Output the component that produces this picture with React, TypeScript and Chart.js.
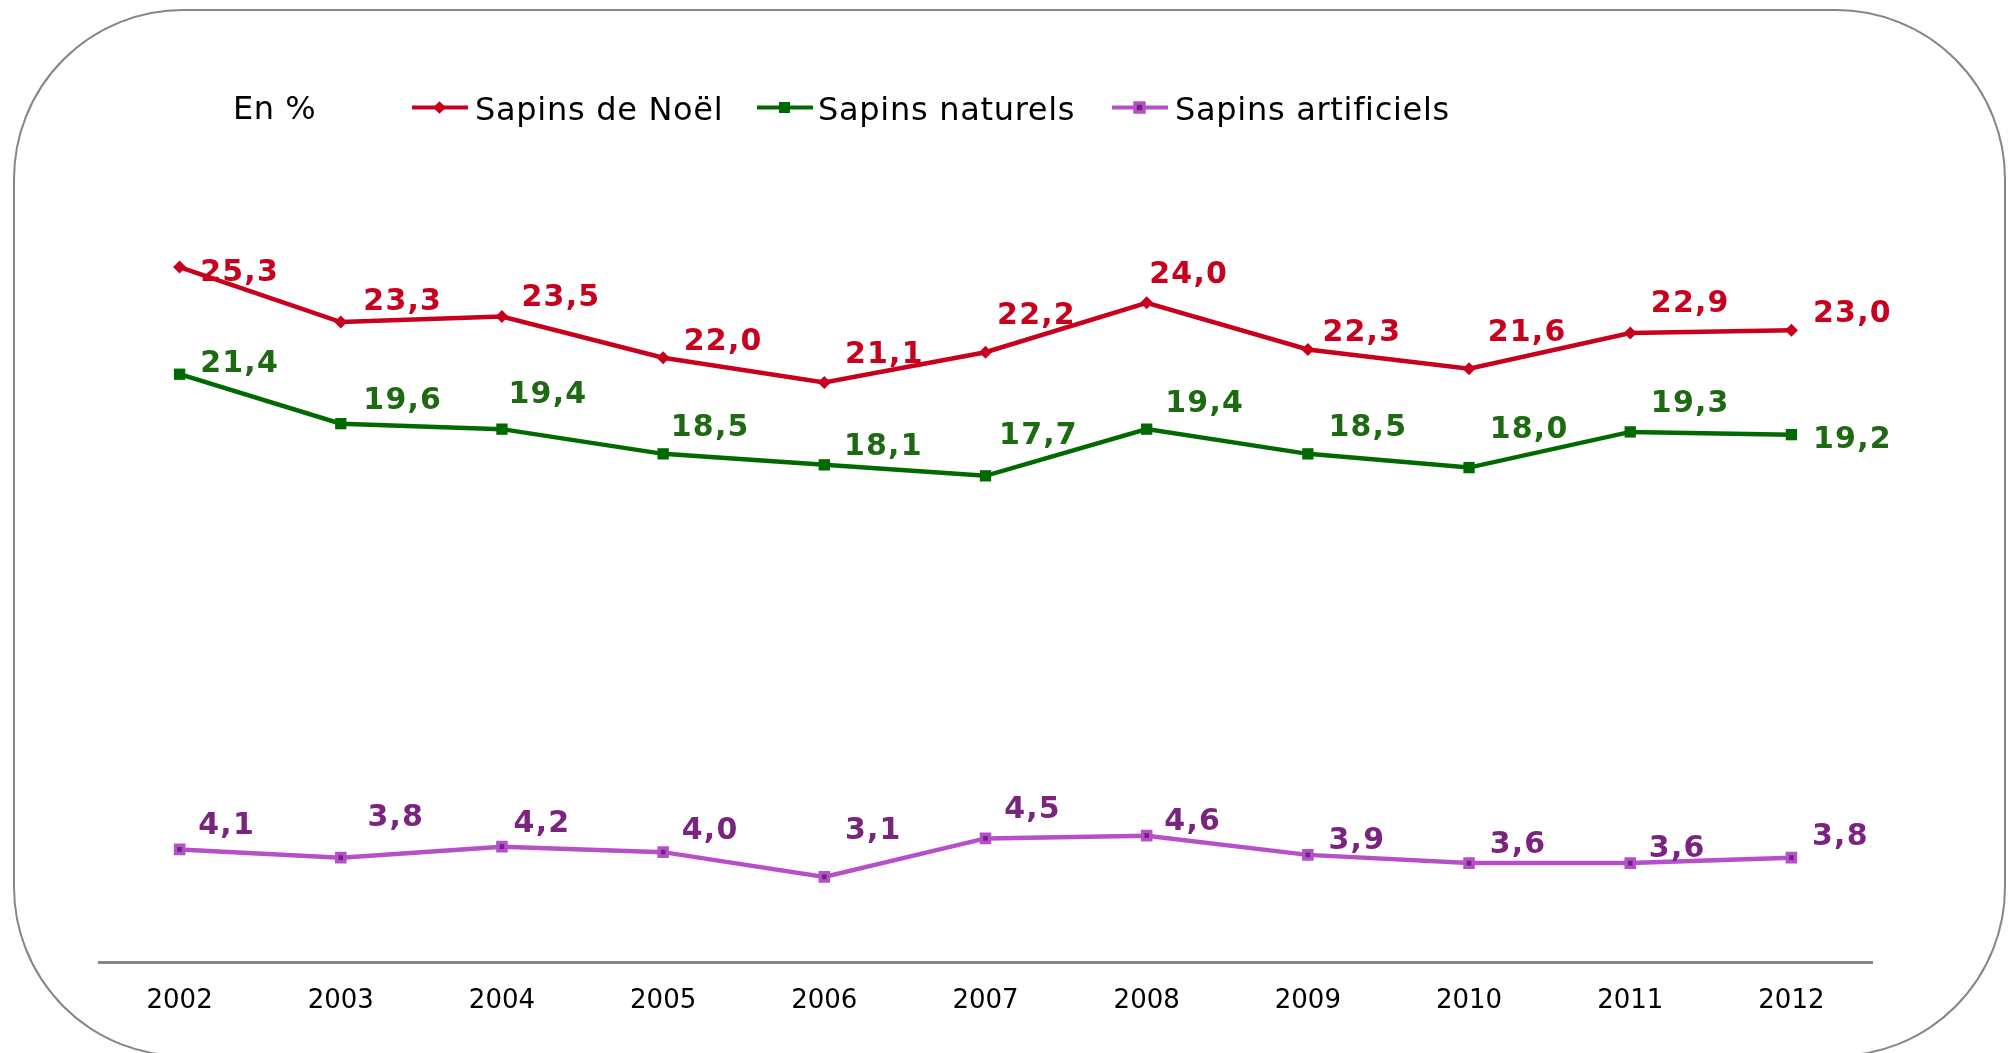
import React, { useEffect, useRef } from "react";
import { Chart, registerables } from "chart.js";

Chart.register(...registerables);

// ---------- data ----------
const years = ["2002", "2003", "2004", "2005", "2006", "2007", "2008", "2009", "2010", "2011", "2012"];
const sapinsNoel = [25.3, 23.3, 23.5, 22.0, 21.1, 22.2, 24.0, 22.3, 21.6, 22.9, 23.0];
const sapinsNaturels = [21.4, 19.6, 19.4, 18.5, 18.1, 17.7, 19.4, 18.5, 18.0, 19.3, 19.2];
const sapinsArtificiels = [4.1, 3.8, 4.2, 4.0, 3.1, 4.5, 4.6, 3.9, 3.6, 3.6, 3.8];
const seriesNames = ["Sapins de Noël", "Sapins naturels", "Sapins artificiels"];
const unitLabel = "En %";
const yMin = 0;
const yMax = 30;

// ---------- styles ----------
const FONT = "'DejaVu Sans', Verdana, sans-serif";
const LINE_COLORS = ["#C8001E", "#006A00", "#B650C8"];
const LABEL_COLORS = ["#C8001E", "#1E6A12", "#7A2480"];
const POINT_BG = ["#C8001E", "#006A00", "#6C2582"];

// label placement (pixel offsets from each point, label centre)
const noelLabelOffsets = [[60, 5], [62, -21], [59, -19], [60, -17], [60, -28], [51, -37], [42, -29], [54, -17], [58, -37], [60, -30], [61, -17]];
const naturelsLabelOffsets = [[60, -11], [62, -23], [46, -35], [47, -27], [59, -19], [53, -41], [58, -26], [60, -27], [60, -38], [60, -29], [61, 5]];
const artificielsLabelOffsets = [[47, -24], [55, -40], [40, -23], [47, -22], [49, -47], [47, -29], [46, -14], [49, -15], [49, -19], [47, -15], [49, -21]];
const LABEL_OFFSETS = [noelLabelOffsets, naturelsLabelOffsets, artificielsLabelOffsets];

const valueLabelPlugin = {
  id: "valueLabels",
  afterDatasetsDraw(chart: any) {
    const ctx = chart.ctx;
    chart.data.datasets.forEach((ds: any, i: number) => {
      const meta = chart.getDatasetMeta(i);
      const offs = LABEL_OFFSETS[i];
      ctx.save();
      ctx.font = `bold 30px ${FONT}`;
      try {
        (ctx as any).letterSpacing = "1.2px";
      } catch (e) {}
      ctx.fillStyle = LABEL_COLORS[i];
      ctx.textAlign = "center";
      ctx.textBaseline = "middle";
      meta.data.forEach((pt: any, j: number) => {
        const v = ds.data[j] as number;
        const txt = v.toFixed(1).replace(".", ",");
        ctx.fillText(txt, pt.x + offs[j][0], pt.y + offs[j][1] + 1);
      });
      ctx.restore();
    });
  },
};

function LegendMarker({ idx }: { idx: number }) {
  const c = LINE_COLORS[idx];
  let marker: React.ReactNode;
  if (idx === 0) {
    marker = <rect x={23} y={3} width={9} height={9} fill={c} transform="rotate(45 27.5 7.5)" />;
  } else if (idx === 1) {
    marker = <rect x={22} y={2} width={11} height={11} fill={c} />;
  } else {
    marker = <rect x={23} y={3} width={9} height={9} fill={POINT_BG[2]} stroke={c} strokeWidth={3.5} />;
  }
  return (
    <svg width={56} height={16} style={{ display: "block" }}>
      <line x1={0} y1={7.5} x2={56} y2={7.5} stroke={c} strokeWidth={4} />
      {marker}
    </svg>
  );
}

export default function App() {
  const canvasRef = useRef<HTMLCanvasElement | null>(null);

  useEffect(() => {
    document.documentElement.style.overflow = "hidden";
    const canvas = canvasRef.current;
    if (!canvas) return;
    const allSeries = [sapinsNoel, sapinsNaturels, sapinsArtificiels];
    const pointStyles = ["rectRot", "rect", "rect"];
    const pointRadii = [6.5, 8, 5.7];
    const pointBorders = [0, 0, 3.5];
    const chart = new Chart(canvas, {
      type: "line",
      data: {
        labels: years,
        datasets: allSeries.map((d, i) => ({
          label: seriesNames[i],
          data: d,
          borderColor: LINE_COLORS[i],
          backgroundColor: POINT_BG[i],
          borderWidth: 4.5,
          tension: 0,
          fill: false,
          pointStyle: pointStyles[i] as any,
          pointRadius: pointRadii[i],
          pointBackgroundColor: POINT_BG[i],
          pointBorderColor: LINE_COLORS[i],
          pointBorderWidth: pointBorders[i],
        })),
      },
      options: {
        animation: false,
        responsive: false,
        devicePixelRatio: 1,
        layout: { padding: { left: 99, right: 139, top: 138, bottom: 0 } },
        plugins: {
          legend: { display: false },
          tooltip: { enabled: false },
          title: { display: false },
        },
        scales: {
          x: {
            type: "category",
            offset: true,
            grid: { display: false, drawTicks: false },
            border: { display: true, color: "#868686", width: 3 },
            ticks: {
              font: { family: FONT, size: 26 },
              color: "#000000",
              padding: 24,
              maxRotation: 0,
              autoSkip: false,
            },
            afterFit: (s: any) => {
              s.height = 91;
            },
          },
          y: {
            display: false,
            min: yMin,
            max: yMax,
          },
        },
      },
      plugins: [valueLabelPlugin],
    });
    return () => chart.destroy();
  }, []);

  const legendPos = [
    { line: 412, text: 475 },
    { line: 757, text: 818 },
    { line: 1112, text: 1175 },
  ];

  return (
    <div
      style={{
        position: "absolute",
        left: 0,
        top: 0,
        width: 2011,
        height: 1053,
        background: "#ffffff",
        overflow: "hidden",
        fontFamily: FONT,
      }}
    >
      <canvas ref={canvasRef} width={2011} height={1053} style={{ position: "absolute", left: 0, top: 0, width: 2011, height: 1053 }} />
      <div
        style={{
          position: "absolute",
          left: 13,
          top: 9,
          width: 1993,
          height: 1048,
          boxSizing: "border-box",
          border: "2px solid #868686",
          borderRadius: 170,
          pointerEvents: "none",
        }}
      />
      <div style={{ position: "absolute", left: 233, top: 92, fontSize: 32, lineHeight: "32px", color: "#000", whiteSpace: "nowrap", letterSpacing: "0.5px" }}>
        {unitLabel}
      </div>
      {seriesNames.map((name, i) => (
        <React.Fragment key={name}>
          <div style={{ position: "absolute", left: legendPos[i].line, top: 100 }}>
            <LegendMarker idx={i} />
          </div>
          <div
            style={{
              position: "absolute",
              left: legendPos[i].text,
              top: 93,
              fontSize: 32,
              lineHeight: "32px",
              color: "#000",
              whiteSpace: "nowrap",
              letterSpacing: "0.7px",
            }}
          >
            {name}
          </div>
        </React.Fragment>
      ))}
    </div>
  );
}
